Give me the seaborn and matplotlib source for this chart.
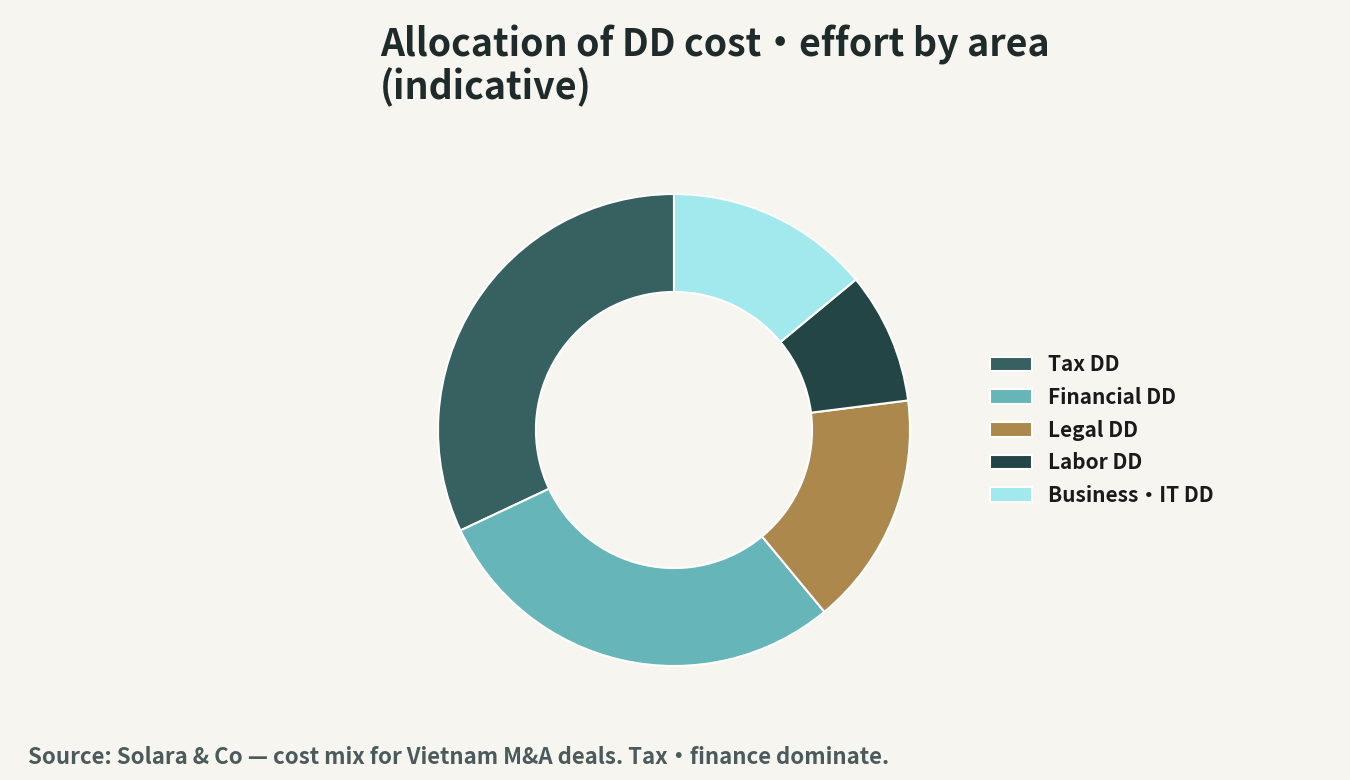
import matplotlib
matplotlib.use("Agg")
import matplotlib.pyplot as plt
import seaborn as sns

categories = ["Tax DD", "Financial DD", "Legal DD", "Labor DD", "Business・IT DD"]
values = [32, 29, 16, 9, 14]
colors = ["#376060", "#66b5b9", "#ad884c", "#234545", "#a2e9ed"]

title_text = "Allocation of DD cost・effort by area\n(indicative)"
source_text = "Source: Solara & Co — cost mix for Vietnam M&A deals. Tax・finance dominate."

BG = "#f6f5f0"
sns.set_theme(style="white", rc={"figure.facecolor": BG, "axes.facecolor": BG})
plt.rcParams["font.family"] = ["Noto Sans CJK JP", "DejaVu Sans"]

fig = plt.figure(figsize=(13.5, 7.8), dpi=100)
fig.patch.set_facecolor(BG)

W, H = 1350, 780
cx, cy, r = 674, 430, 236
ax = fig.add_axes([(cx - r) / W, (H - cy - r) / H, 2 * r / W, 2 * r / H])
ax.set_facecolor(BG)

wedges, _ = ax.pie(
    values,
    colors=colors,
    startangle=90,
    counterclock=True,
    radius=1.0,
    wedgeprops=dict(width=0.415, edgecolor="white", linewidth=1.5),
)
ax.set_xlim(-1, 1)
ax.set_ylim(-1, 1)
ax.set_aspect("equal")
ax.axis("off")

leg = fig.legend(
    wedges,
    categories,
    loc="center left",
    bbox_to_anchor=(990 / W, 1 - 430 / H),
    frameon=False,
    borderpad=0,
    borderaxespad=0,
    fontsize=15,
    handlelength=2.0,
    handleheight=0.7,
    handletextpad=0.8,
    labelspacing=0.56,
)
for t in leg.get_texts():
    t.set_fontweight("bold")
    t.set_color("#1a1a1a")

fig.text(380 / W, 1 - 25 / H, title_text, ha="left", va="top",
         fontsize=27, fontweight="bold", color="#1f2b2b", linespacing=1.07)

fig.text(28 / W, 1 - 764 / H, source_text, ha="left", va="baseline",
         fontsize=16, fontweight="bold", color="#4b5a5a")

fig.savefig("out.png", dpi=100, facecolor=BG)
